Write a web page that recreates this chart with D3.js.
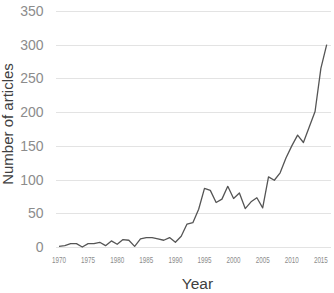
<!DOCTYPE html>
<html><head><meta charset="utf-8">
<script src="https://cdn.jsdelivr.net/npm/d3@7"></script>
<style>body{margin:0;background:#fff}svg{display:block}</style>
</head><body>
<script>
const years = d3.range(1970, 2017);
const articles = [1,2,5,5,0,5,5,7,2,9,4,11,10,1,12,14,14,12,10,14,7,16,34,36,56,87,84,66,71,90,72,80,57,67,73,58,104,99,110,132,150,166,155,178,201,265,300];
const yTicks = [0,50,100,150,200,250,300,350];
const xTickYears = [1970,1975,1980,1985,1990,1995,2000,2005,2010,2015];

const W=334,H=293;
const svg=d3.select("body").append("svg").attr("width",W).attr("height",H);
const x=d3.scaleLinear().domain([1970,2016]).range([59,326.7]);
const y=d3.scaleLinear().domain([0,350]).range([247,11]);

// gridlines
svg.append("g").selectAll("line").data(yTicks).join("line")
  .attr("x1",56).attr("x2",331)
  .attr("y1",d=>Math.round(y(d))+0.5).attr("y2",d=>Math.round(y(d))+0.5)
  .attr("stroke","#e3e3e3").attr("stroke-width",1);

// y tick labels
svg.append("g").selectAll("text").data(yTicks).join("text")
  .attr("x",43.5).attr("y",d=>y(d)+5)
  .attr("text-anchor","end")
  .attr("font-family","Liberation Sans, Arial, sans-serif")
  .attr("font-size",14).attr("fill","#8c8c8c")
  .text(d=>d);

// x tick labels
svg.append("g").selectAll("text").data(xTickYears).join("text")
  .attr("x",d=>x(d)).attr("y",263)
  .attr("text-anchor","middle")
  .attr("font-family","Liberation Sans, Arial, sans-serif")
  .attr("font-size",9.5).attr("fill","#8c8c8c")
  .attr("textLength",14).attr("lengthAdjust","spacingAndGlyphs")
  .text(d=>d);

// line
const line=d3.line().x((d,i)=>x(years[i])).y(d=>y(d));
svg.append("path").datum(articles)
  .attr("d",line).attr("fill","none")
  .attr("stroke","#555").attr("stroke-width",1.3)
  .attr("stroke-linejoin","round");

// axis titles
svg.append("text").attr("x",197.5).attr("y",289)
  .attr("text-anchor","middle")
  .attr("font-family","Liberation Sans, Arial, sans-serif")
  .attr("font-size",15.5).attr("fill","#404040").text("Year");
svg.append("text").attr("transform","translate(12.5,124) rotate(-90)")
  .attr("text-anchor","middle")
  .attr("font-family","Liberation Sans, Arial, sans-serif")
  .attr("font-size",15).attr("fill","#404040").text("Number of articles");
</script>
</body></html>
